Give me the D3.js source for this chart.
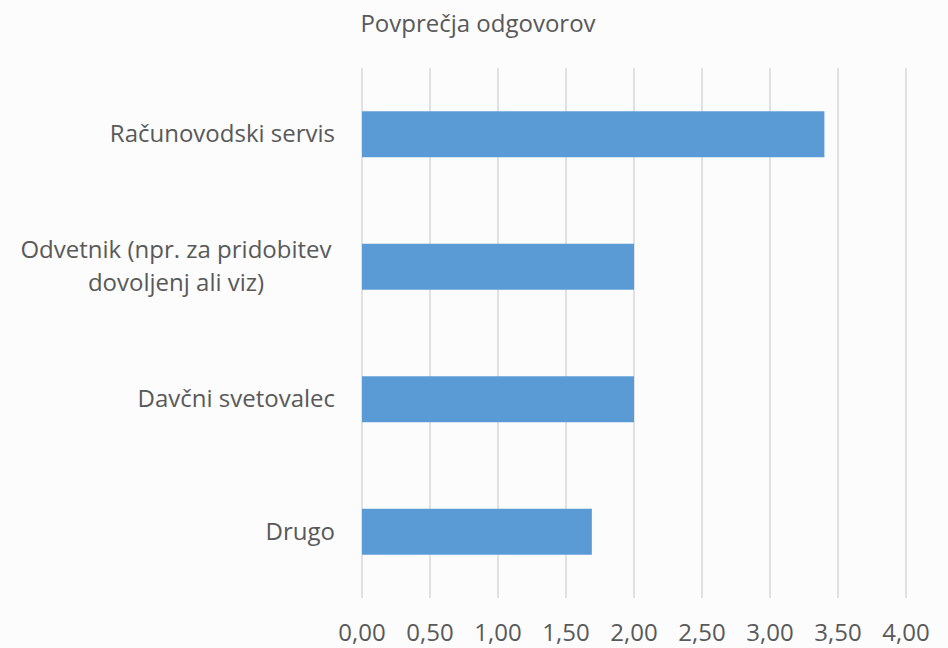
<!DOCTYPE html>
<meta charset="utf-8">
<style>
    body {
        margin: 0;
        overflow: hidden;
        background: #fcfcfc;
    }
    text {
        font-family: "Open Sans", sans-serif;
        fill: #595959;
    }
</style>
<svg id="canvas" width="948" height="648"></svg>
<script src="https://d3js.org/d3.v7.min.js"></script>
<script>

    var title = "Povprečja odgovorov";
    var categories = [
        ["Računovodski servis"],
        ["Odvetnik (npr. za pridobitev", "dovoljenj ali viz)"],
        ["Davčni svetovalec"],
        ["Drugo"]
    ];
    var values = [3.40, 2.00, 2.00, 1.69];
    var ticks = [0, 0.5, 1, 1.5, 2, 2.5, 3, 3.5, 4];

    var svg = d3.select("svg");

    svg.append("rect")
       .attr("width", 948).attr("height", 648)
       .attr("fill", "#fcfcfc");

    var x = d3.scaleLinear().domain([0, 4]).range([362, 906]);
    var y = d3.scaleBand()
              .domain(d3.range(categories.length))
              .range([68, 598])
              .paddingInner(0.653)
              .paddingOuter(0.3265);

    // gridlines
    svg.append("g")
       .selectAll("line")
       .data(ticks)
       .enter().append("line")
       .attr("x1", function(d) { return x(d); })
       .attr("x2", function(d) { return x(d); })
       .attr("y1", 68)
       .attr("y2", 598)
       .attr("stroke", "#d9d9d9")
       .attr("stroke-width", 1.5);

    // bars
    svg.append("g")
       .selectAll("rect")
       .data(values)
       .enter().append("rect")
       .attr("x", x(0))
       .attr("y", function(d, i) { return y(i); })
       .attr("width", function(d) { return x(d) - x(0); })
       .attr("height", y.bandwidth())
       .attr("fill", "#5b9bd5");

    // x tick labels
    svg.append("g")
       .selectAll("text")
       .data(ticks)
       .enter().append("text")
       .attr("x", function(d) { return x(d); })
       .attr("y", 641)
       .attr("text-anchor", "middle")
       .style("font-size", "24px")
       .text(function(d) { return d.toFixed(2).replace(".", ","); });

    // category labels
    var labels = svg.append("g").style("font-size", "24px");
    categories.forEach(function(lines, i) {
        var cy = y(i) + y.bandwidth() / 2;
        var t = labels.append("text");
        if (lines.length === 1) {
            t.attr("x", 335).attr("y", cy + 8).attr("text-anchor", "end").text(lines[0]);
        } else {
            var lh = 33;
            lines.forEach(function(s, k) {
                t.append("tspan")
                 .attr("x", 176)
                 .attr("y", cy + 8 + (k - (lines.length - 1) / 2) * lh)
                 .attr("text-anchor", "middle")
                 .text(s);
            });
        }
    });

    svg.append("text")
       .attr("x", 478)
       .attr("y", 32)
       .attr("text-anchor", "middle")
       .style("font-size", "24px")
       .text(title);

</script>
